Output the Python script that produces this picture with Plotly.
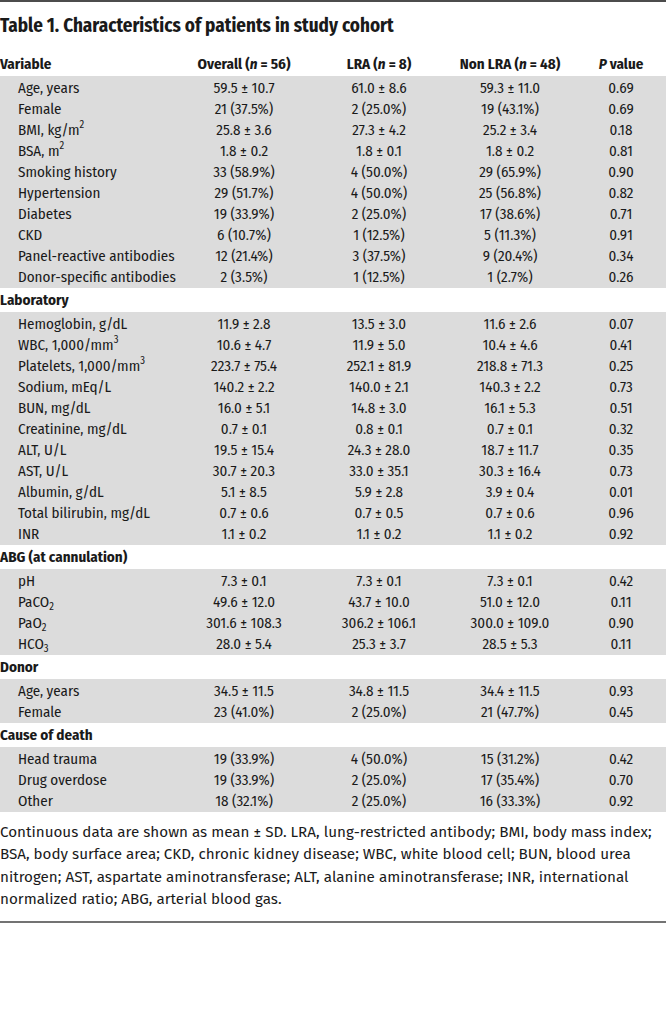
import plotly.graph_objects as go

# ---------------- data ----------------
title = "Table 1. Characteristics of patients in study cohort"
headers = ["Variable", "Overall (<i>n</i> = 56)", "LRA (<i>n</i> = 8)",
           "Non LRA (<i>n</i> = 48)", "<i>P</i> value"]

section_titles = ["Laboratory", "ABG (at cannulation)", "Donor", "Cause of death"]

variables = [
    "Age, years", "Female", "BMI, kg/m<sup>2</sup>", "BSA, m<sup>2</sup>", "Smoking history",
    "Hypertension", "Diabetes", "CKD", "Panel-reactive antibodies", "Donor-specific antibodies",
    "Laboratory",
    "Hemoglobin, g/dL", "WBC, 1,000/mm<sup>3</sup>", "Platelets, 1,000/mm<sup>3</sup>",
    "Sodium, mEq/L", "BUN, mg/dL", "Creatinine, mg/dL", "ALT, U/L", "AST, U/L",
    "Albumin, g/dL", "Total bilirubin, mg/dL", "INR",
    "ABG (at cannulation)",
    "pH", "PaCO<sub>2</sub>", "PaO<sub>2</sub>", "HCO<sub>3</sub>",
    "Donor",
    "Age, years", "Female",
    "Cause of death",
    "Head trauma", "Drug overdose", "Other",
]

overall = [
    "59.5 ± 10.7", "21 (37.5%)", "25.8 ± 3.6", "1.8 ± 0.2", "33 (58.9%)",
    "29 (51.7%)", "19 (33.9%)", "6 (10.7%)", "12 (21.4%)", "2 (3.5%)",
    "",
    "11.9 ± 2.8", "10.6 ± 4.7", "223.7 ± 75.4", "140.2 ± 2.2", "16.0 ± 5.1",
    "0.7 ± 0.1", "19.5 ± 15.4", "30.7 ± 20.3", "5.1 ± 8.5", "0.7 ± 0.6", "1.1 ± 0.2",
    "",
    "7.3 ± 0.1", "49.6 ± 12.0", "301.6 ± 108.3", "28.0 ± 5.4",
    "",
    "34.5 ± 11.5", "23 (41.0%)",
    "",
    "19 (33.9%)", "19 (33.9%)", "18 (32.1%)",
]

lra = [
    "61.0 ± 8.6", "2 (25.0%)", "27.3 ± 4.2", "1.8 ± 0.1", "4 (50.0%)",
    "4 (50.0%)", "2 (25.0%)", "1 (12.5%)", "3 (37.5%)", "1 (12.5%)",
    "",
    "13.5 ± 3.0", "11.9 ± 5.0", "252.1 ± 81.9", "140.0 ± 2.1", "14.8 ± 3.0",
    "0.8 ± 0.1", "24.3 ± 28.0", "33.0 ± 35.1", "5.9 ± 2.8", "0.7 ± 0.5", "1.1 ± 0.2",
    "",
    "7.3 ± 0.1", "43.7 ± 10.0", "306.2 ± 106.1", "25.3 ± 3.7",
    "",
    "34.8 ± 11.5", "2 (25.0%)",
    "",
    "4 (50.0%)", "2 (25.0%)", "2 (25.0%)",
]

non_lra = [
    "59.3 ± 11.0", "19 (43.1%)", "25.2 ± 3.4", "1.8 ± 0.2", "29 (65.9%)",
    "25 (56.8%)", "17 (38.6%)", "5 (11.3%)", "9 (20.4%)", "1 (2.7%)",
    "",
    "11.6 ± 2.6", "10.4 ± 4.6", "218.8 ± 71.3", "140.3 ± 2.2", "16.1 ± 5.3",
    "0.7 ± 0.1", "18.7 ± 11.7", "30.3 ± 16.4", "3.9 ± 0.4", "0.7 ± 0.6", "1.1 ± 0.2",
    "",
    "7.3 ± 0.1", "51.0 ± 12.0", "300.0 ± 109.0", "28.5 ± 5.3",
    "",
    "34.4 ± 11.5", "21 (47.7%)",
    "",
    "15 (31.2%)", "17 (35.4%)", "16 (33.3%)",
]

p_values = [
    "0.69", "0.69", "0.18", "0.81", "0.90", "0.82", "0.71", "0.91", "0.34", "0.26",
    "",
    "0.07", "0.41", "0.25", "0.73", "0.51", "0.32", "0.35", "0.73", "0.01", "0.96", "0.92",
    "",
    "0.42", "0.11", "0.90", "0.11",
    "",
    "0.93", "0.45",
    "",
    "0.42", "0.70", "0.92",
]

footnote_lines = [
    "Continuous data are shown as mean ± SD. LRA, lung-restricted antibody; BMI, body mass index;",
    "BSA, body surface area; CKD, chronic kidney disease; WBC, white blood cell; BUN, blood urea",
    "nitrogen; AST, aspartate aminotransferase; ALT, alanine aminotransferase; INR, international",
    "normalized ratio; ABG, arterial blood gas.",
]

# ---------------- layout / style constants ----------------
W, H = 666, 1021
FONT = "Fira Sans Condensed, Roboto Condensed, sans-serif"
NOTE_FONT = "Fira Sans, Open Sans, sans-serif"
TXT = "#1a1a1a"
GREY = "#dcdcdc"
FS = 15

TITLE_Y = 27
HEADER_Y = 65
FIRST_ROW_Y = 89
ROW_STEP = 21
SECTION_GAP = 23.5
BAND_TOP, BAND_BOTTOM = 13, 10
LABEL_X, INDENT_X = 0, 18
COL_X = [244, 379, 510, 621]
NOTE_Y0, NOTE_STEP = 833, 22.5
TOP_RULE_Y, BOTTOM_RULE_Y = 1, 922

# ---------------- row positions ----------------
is_section = [v in section_titles for v in variables]
ys = []
for i in range(len(variables)):
    if i == 0:
        y = FIRST_ROW_Y
    elif is_section[i] or is_section[i - 1]:
        y = ys[-1] + SECTION_GAP
    else:
        y = ys[-1] + ROW_STEP
    ys.append(y)

# grey bands for each block of data rows
blocks = []
start = None
for i, sec in enumerate(is_section):
    if not sec and start is None:
        start = i
    if (sec or i == len(is_section) - 1) and start is not None:
        end = i - 1 if sec else i
        blocks.append((ys[start], ys[end]))
        start = None

fig = go.Figure()

shapes = []
for y0, y1 in blocks:
    shapes.append(dict(type="rect", xref="x", yref="y", x0=0, x1=W,
                       y0=y0 - BAND_TOP, y1=y1 + BAND_BOTTOM,
                       fillcolor=GREY, line=dict(width=0), layer="below"))
shapes.append(dict(type="line", xref="x", yref="y", x0=0, x1=W, y0=TOP_RULE_Y, y1=TOP_RULE_Y,
                   line=dict(color="#111111", width=1.5)))
shapes.append(dict(type="line", xref="x", yref="y", x0=0, x1=W, y0=BOTTOM_RULE_Y, y1=BOTTOM_RULE_Y,
                   line=dict(color="#444444", width=1.5)))

data_idx = [i for i, s in enumerate(is_section) if not s]
sec_idx = [i for i, s in enumerate(is_section) if s]

def text_trace(xs, yv, texts, pos, size=FS, family=FONT):
    return go.Scatter(x=xs, y=yv, text=texts, mode="text", textposition=pos,
                      textfont=dict(family=family, size=size, color=TXT),
                      hoverinfo="skip", showlegend=False)

# data-row labels (indented)
fig.add_trace(text_trace([INDENT_X] * len(data_idx), [ys[i] for i in data_idx],
                         [variables[i] for i in data_idx], "middle right"))
# section labels
fig.add_trace(text_trace([LABEL_X] * len(sec_idx), [ys[i] for i in sec_idx],
                         ["<b>" + variables[i] + "</b>" for i in sec_idx], "middle right"))
# value columns
for cx, col in zip(COL_X, [overall, lra, non_lra, p_values]):
    fig.add_trace(text_trace([cx] * len(data_idx), [ys[i] for i in data_idx],
                             [col[i] for i in data_idx], "middle center"))
# header row
fig.add_trace(text_trace([LABEL_X], [HEADER_Y], ["<b>" + headers[0] + "</b>"], "middle right"))
fig.add_trace(text_trace(COL_X, [HEADER_Y] * 4, ["<b>" + h + "</b>" for h in headers[1:]],
                         "middle center"))
# title
fig.add_trace(text_trace([LABEL_X], [TITLE_Y], ["<b>" + title + "</b>"], "middle right", size=19))
# footnote
fig.add_trace(text_trace([LABEL_X] * len(footnote_lines),
                         [NOTE_Y0 + k * NOTE_STEP for k in range(len(footnote_lines))],
                         footnote_lines, "middle right", size=15.2, family=NOTE_FONT))

fig.update_layout(
    width=W, height=H, margin=dict(l=0, r=0, t=0, b=0),
    paper_bgcolor="white", plot_bgcolor="white", shapes=shapes,
    xaxis=dict(range=[0, W], visible=False, fixedrange=True),
    yaxis=dict(range=[H, 0], visible=False, fixedrange=True),
)

fig.write_html("out.html", config={"displayModeBar": False},
               post_script="document.body.style.margin='0';")
